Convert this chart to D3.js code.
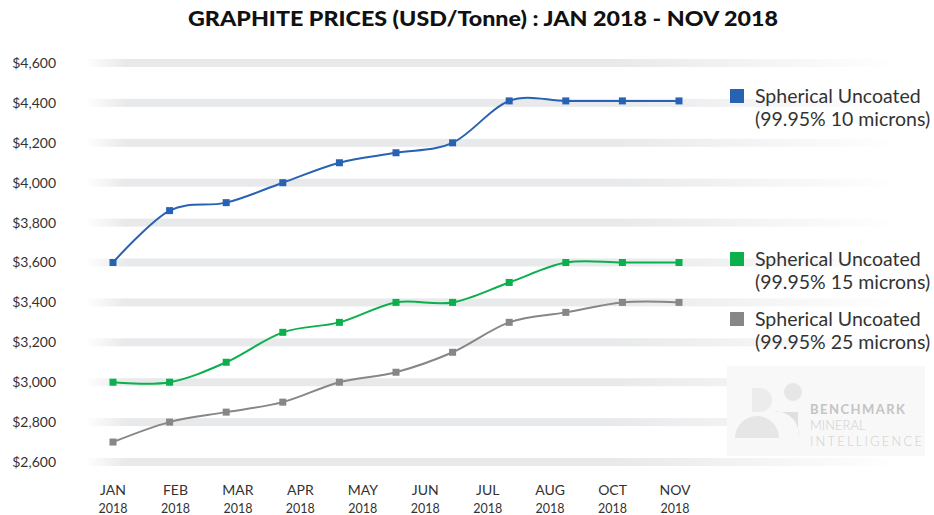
<!DOCTYPE html>
<html>
<head>
<meta charset="utf-8">
<script src="https://cdn.jsdelivr.net/npm/d3@7"></script>
<style>
  body { margin: 0; background: #fff; }
  #chart { width: 934px; height: 515px; }
  text { font-family: Lato, "Open Sans", sans-serif; }
</style>
</head>
<body>
<div id="chart"></div>
<script>
// months that carry a price point (Jan..Nov)
const months = ["Jan", "Feb", "Mar", "Apr", "May", "Jun", "Jul", "Aug", "Sep", "Oct", "Nov"]
// axis labels as printed (no SEP)
const tickLabels = ["JAN", "FEB", "MAR", "APR", "MAY", "JUN", "JUL", "AUG", "OCT", "NOV"]
const tickYear = "2018"
const yTicks = [2600, 2800, 3000, 3200, 3400, 3600, 3800, 4000, 4200, 4400, 4600]

const blue = [3600, 3860, 3900, 4000, 4100, 4150, 4200, 4410, 4410, 4410, 4410]
const green = [3000, 3000, 3100, 3250, 3300, 3400, 3400, 3500, 3600, 3600, 3600]
const grey = [2700, 2800, 2850, 2900, 3000, 3050, 3150, 3300, 3350, 3400, 3400]

const seriesNames = ["Spherical Uncoated", "Spherical Uncoated", "Spherical Uncoated"]
const seriesSub = ["(99.95% 10 microns)", "(99.95% 15 microns)", "(99.95% 25 microns)"]
const colors = ["#2762b3", "#0bb04c", "#878787"]

const width = 934, height = 515

const svg = d3.select("#chart").append("svg")
    .attr("width", width)
    .attr("height", height)

// gradient for the soft grid bands
const defs = svg.append("defs")
const grad = defs.append("linearGradient").attr("id", "band")
grad.append("stop").attr("offset", "0%").attr("stop-color", "#e8e9eb").attr("stop-opacity", 0)
grad.append("stop").attr("offset", "5%").attr("stop-color", "#e8e9eb").attr("stop-opacity", 1)
grad.append("stop").attr("offset", "65%").attr("stop-color", "#e8e9eb").attr("stop-opacity", 1)
grad.append("stop").attr("offset", "100%").attr("stop-color", "#e8e9eb").attr("stop-opacity", 0)

const x = d3.scalePoint().domain(months).range([113, 679])
const xl = d3.scalePoint().domain(tickLabels).range([113, 675])
const y = d3.scaleLinear().domain([2600, 4600]).range([462, 63])

// title
svg.append("text")
    .attr("x", 188).attr("y", 26)
    .attr("font-size", 21)
    .attr("font-weight", 900)
    .attr("fill", "#111")
    .attr("textLength", 590)
    .attr("lengthAdjust", "spacingAndGlyphs")
    .text("GRAPHITE PRICES (USD/Tonne) : JAN 2018 - NOV 2018")

// grid bands
svg.append("g").selectAll("rect")
    .data(yTicks)
    .join("rect")
    .attr("x", 85)
    .attr("width", 815)
    .attr("y", d => y(d) - 4)
    .attr("height", 8)
    .attr("fill", "url(#band)")

// y axis labels
const yAxis = svg.append("g")
    .attr("transform", "translate(56,0)")
    .call(d3.axisLeft(y).tickValues(yTicks).tickSize(0).tickPadding(0)
        .tickFormat(d => "$" + d3.format(",")(d)))
yAxis.select(".domain").remove()
yAxis.selectAll("text")
    .attr("font-size", 14)
    .attr("fill", "#333")
    .style("font-family", "Lato, sans-serif")

// x axis labels (two lines)
const xg = svg.append("g").selectAll("g")
    .data(tickLabels)
    .join("g")
    .attr("transform", d => `translate(${xl(d)},0)`)
xg.append("text")
    .attr("y", 495)
    .attr("text-anchor", "middle")
    .attr("font-size", 14)
    .attr("fill", "#333")
    .text(d => d)
xg.append("text")
    .attr("y", 513)
    .attr("text-anchor", "middle")
    .attr("font-size", 12.5)
    .attr("fill", "#333")
    .text(tickYear)

// watermark logo
const logo = svg.append("g")
logo.append("rect").attr("x", 727).attr("y", 366).attr("width", 198).attr("height", 90).attr("fill", "#f8f8f8")
logo.append("path")
    .attr("d", "M752,388 L760,388 A12,12 0 0 1 760,412 L752,412 Z")
    .attr("fill", "#ececec")
logo.append("path")
    .attr("d", "M735,438 A22,22 0 0 1 779,438 Z")
    .attr("fill", "#e6e6e6")
logo.append("circle").attr("cx", 793).attr("cy", 392).attr("r", 9).attr("fill", "#e6e6e6")
logo.append("path")
    .attr("d", "M772,412 A22,22 0 0 1 798,438 L798,438 L798,412 Z")
    .attr("fill", "#e0e0e0")
logo.append("text").attr("x", 810).attr("y", 414).attr("font-size", 13).attr("font-weight", 700)
    .attr("fill", "#c4c4c4").attr("textLength", 95).text("BENCHMARK")
logo.append("text").attr("x", 810).attr("y", 430).attr("font-size", 13).attr("font-weight", 300)
    .attr("fill", "#cfcfcf").text("MINERAL")
logo.append("text").attr("x", 810).attr("y", 446).attr("font-size", 13).attr("font-weight", 300)
    .attr("fill", "#cfcfcf").attr("textLength", 112).text("INTELLIGENCE")

// lines
const line = d3.line()
    .x((d, i) => x(months[i]))
    .y(d => y(d))
    .curve(d3.curveCardinal.tension(0))

const allSeries = [blue, green, grey]
allSeries.forEach((s, k) => {
    svg.append("path")
        .datum(s)
        .attr("fill", "none")
        .attr("stroke", colors[k])
        .attr("stroke-width", 2)
        .attr("d", line)
    svg.append("g").selectAll("rect")
        .data(s)
        .join("rect")
        .attr("x", (d, i) => x(months[i]) - 3.5)
        .attr("y", d => y(d) - 3.5)
        .attr("width", 7)
        .attr("height", 7)
        .attr("fill", colors[k])
})

// legend
const legendY = [103, 266, 326]
allSeries.forEach((s, k) => {
    const g = svg.append("g").attr("transform", `translate(730,${legendY[k]})`)
    g.append("rect").attr("x", 0).attr("y", -14).attr("width", 14).attr("height", 14).attr("fill", colors[k])
    g.append("text").attr("x", 25).attr("y", 0).attr("font-size", 19.5).attr("fill", "#333").text(seriesNames[k])
    g.append("text").attr("x", 25).attr("y", 23).attr("font-size", 19.5).attr("fill", "#333").text(seriesSub[k])
})
</script>
</body>
</html>
